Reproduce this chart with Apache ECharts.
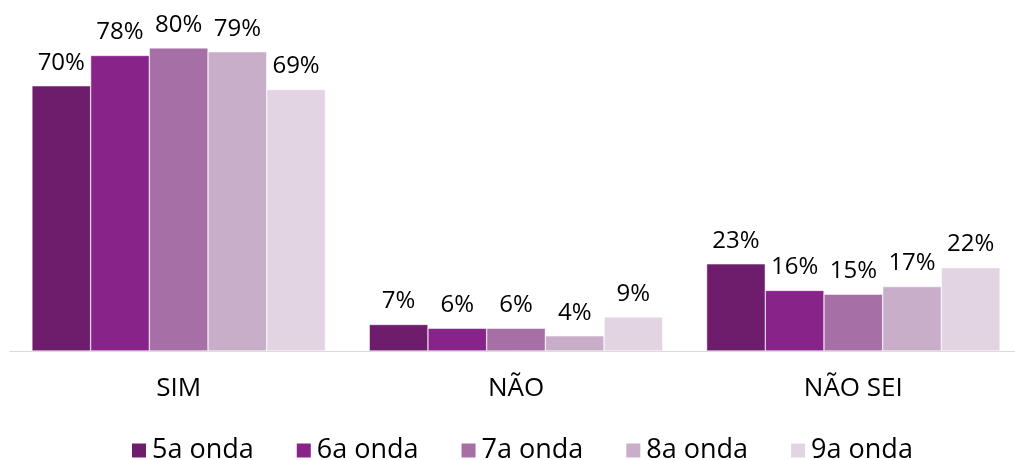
<!DOCTYPE html>
<html>
<head>
<meta charset="utf-8">
<script src="https://cdn.jsdelivr.net/npm/echarts@6/dist/echarts.min.js"></script>
<style>
  html, body { margin: 0; padding: 0; background: #fff; }
  #chart { width: 1015px; height: 460px; }
</style>
</head>
<body>
<div id="chart"></div>
<script>
const categories = ['SIM', 'NÃO', 'NÃO SEI'];
const waves = ['5a onda', '6a onda', '7a onda', '8a onda', '9a onda'];
const wave5 = [70, 7, 23];
const wave6 = [78, 6, 16];
const wave7 = [80, 6, 15];
const wave8 = [79, 4, 17];
const wave9 = [69, 9, 22];
const colors = ['#6d1d6c', '#88238a', '#a66fa5', '#c9aec9', '#e2d4e3'];

const chart = echarts.init(document.getElementById('chart'));
const font = '"Open Sans", sans-serif';

const seriesData = [wave5, wave6, wave7, wave8, wave9];

const option = {
  animation: false,
  grid: { left: 10, width: 1012, top: 10, bottom: 109, outerBoundsMode: 'none' },
  legend: {
    top: 437,
    left: 130,
    padding: 0,
    icon: 'rect',
    itemWidth: 16,
    itemHeight: 16,
    itemGap: 41,
    textStyle: { fontSize: 27, color: '#000', fontFamily: font },
    data: waves
  },
  xAxis: {
    type: 'category',
    data: categories,
    axisLine: { lineStyle: { color: '#d9d9d9', width: 1 } },
    axisTick: { show: false },
    axisLabel: { fontSize: 26, color: '#000', margin: 25, fontFamily: font }
  },
  yAxis: {
    type: 'value',
    min: 0,
    max: 90,
    show: false,
    splitLine: { show: false }
  },
  series: seriesData.map((d, i) => ({
    name: waves[i],
    type: 'bar',
    data: d,
    barGap: '0%',
    barCategoryGap: '13%',
    itemStyle: { color: colors[i], borderColor: '#fff', borderWidth: 0.5 },
    label: {
      show: true,
      position: 'top',
      distance: 11,
      formatter: '{c}%',
      fontSize: 24,
      color: '#000',
      fontFamily: font
    }
  }))
};

chart.setOption(option);
</script>
</body>
</html>
